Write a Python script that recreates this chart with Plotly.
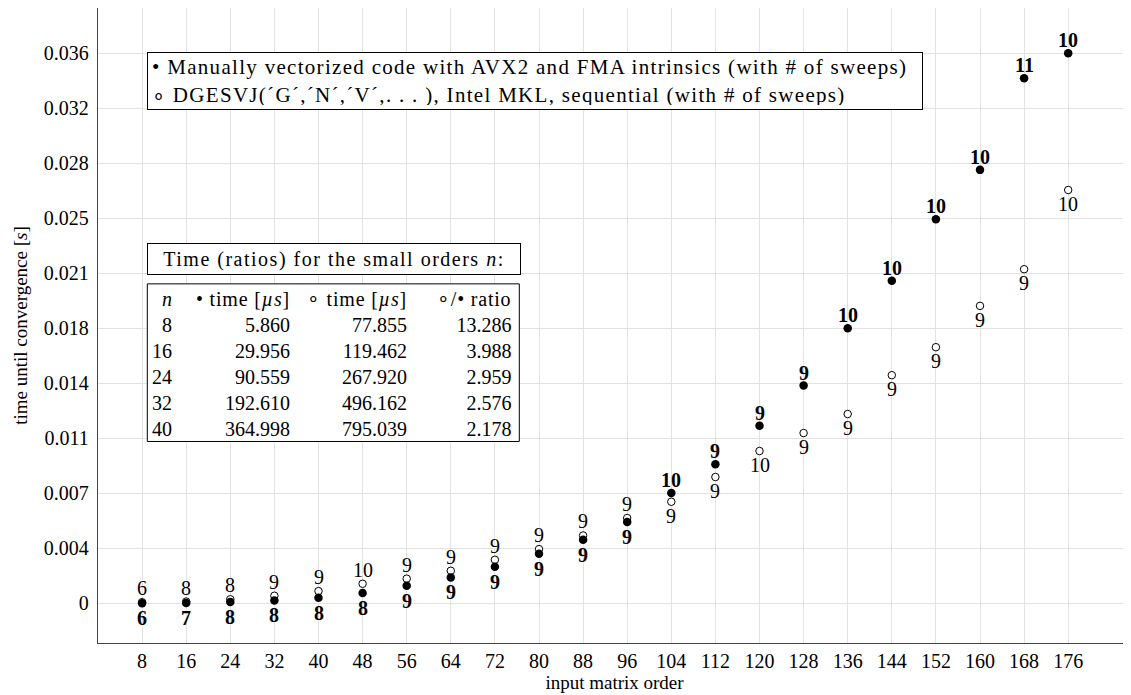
import plotly.graph_objects as go

# ---------------- data ----------------
orders = [8, 16, 24, 32, 40, 48, 56, 64, 72, 80, 88, 96, 104, 112, 120, 128, 136, 144, 152, 160, 168, 176]
manual_time = [0.00000586, 0.000029956, 0.000090559, 0.00019261, 0.000364998, 0.000672, 0.00114, 0.00168,
               0.00237, 0.00321, 0.00411, 0.00526, 0.00713, 0.00900, 0.01148, 0.01408, 0.01779, 0.02085,
               0.02483, 0.02802, 0.03394, 0.03556]
mkl_time = [0.000077855, 0.000119462, 0.00026792, 0.000496162, 0.000795039, 0.00127, 0.00160, 0.00211,
            0.00282, 0.00351, 0.00439, 0.00552, 0.00657, 0.00817, 0.00985, 0.01101, 0.01224, 0.01475,
            0.01656, 0.01923, 0.02160, 0.02672]
manual_sweeps = [6, 7, 8, 8, 8, 8, 9, 9, 9, 9, 9, 9, 10, 9, 9, 9, 10, 10, 10, 10, 11, 10]
mkl_sweeps = [6, 8, 8, 9, 9, 10, 9, 9, 9, 9, 9, 9, 9, 9, 10, 9, 9, 9, 9, 9, 9, 10]

ytick_vals = [k * 0.032 / 9 for k in range(11)]
ytick_text = ["0", "0.004", "0.007", "0.011", "0.014", "0.018", "0.021", "0.025", "0.028", "0.032", "0.036"]

table_n = [8, 16, 24, 32, 40]
table_manual_us = [5.860, 29.956, 90.559, 192.610, 364.998]
table_mkl_us = [77.855, 119.462, 267.920, 496.162, 795.039]
table_ratio = [m / a for m, a in zip(table_mkl_us, table_manual_us)]

legend_lines = [
    "• Manually vectorized code with AVX2 and FMA intrinsics (with # of sweeps)",
    "∘ DGESVJ(´G´,´N´,´V´,. . . ), Intel MKL, sequential (with # of sweeps)",
]
table_title = "Time (ratios) for the small orders <i>n</i>:"
table_headers = ["<i>n</i>", "• time [<i>µs</i>]", "∘ time [<i>µs</i>]", "∘/• ratio"]

# ---------------- layout geometry ----------------
# the page body adds an 8px offset; figure is sized so the plot fills the window
OFF = 8
W, H = 1131 - OFF, 695 - OFF
L, R, T = 90, 0, 0
bottom_axis_win = 643.3
PH = bottom_axis_win - OFF - T
B = H - T - PH
PW = W - L - R
step = 0.032 / 9
y0_win = 603.7
px_per_step = 55.04
y_lo = -(bottom_axis_win - y0_win) / px_per_step * step
y_hi = (y0_win - OFF - T) / px_per_step * step
x_hi = PW / 44.1 * 8

def px2x(px):
    return (px - OFF - L) / PW

def py2y(py):
    return (T + PH - (py - OFF)) / PH

FONT = "Liberation Serif"

fig = go.Figure()
fig.add_trace(go.Scatter(
    x=orders, y=mkl_time, mode="markers",
    marker=dict(symbol="circle", size=7.5, color="white", line=dict(color="black", width=1)),
    showlegend=False, cliponaxis=False,
))
fig.add_trace(go.Scatter(
    x=orders, y=manual_time, mode="markers",
    marker=dict(symbol="circle", size=8.5, color="black", line=dict(width=0)),
    showlegend=False, cliponaxis=False,
))

# sweep count labels
for n, t, s in zip(orders, mkl_time, mkl_sweeps):
    fig.add_annotation(x=n, y=t, text=str(s), showarrow=False, xanchor="center", yanchor="middle",
                       yshift=(14 if n <= 96 else -14), font=dict(family=FONT, size=20, color="black"))
for n, t, s in zip(orders, manual_time, manual_sweeps):
    fig.add_annotation(x=n, y=t, text="<b>%d</b>" % s, showarrow=False, xanchor="center", yanchor="middle",
                       yshift=(-15 if n <= 96 else 13), font=dict(family=FONT, size=20, color="black"))

# legend box
LS = '<span style="letter-spacing:1.3px">%s</span>'
fig.add_annotation(
    xref="paper", yref="paper", x=px2x(147.3), y=py2y(52.3), xanchor="left", yanchor="top",
    text="<br>".join(LS % l for l in legend_lines), align="left", showarrow=False,
    font=dict(family=FONT, size=21, color="black"),
    bgcolor="white", bordercolor="black", borderwidth=1, borderpad=4,
    width=766, height=48,
)

# table title
fig.add_annotation(
    xref="paper", yref="paper", x=px2x(147.3), y=py2y(242.7), xanchor="left", yanchor="top",
    text='<span style="letter-spacing:1.5px">%s</span>' % table_title, align="center", showarrow=False,
    font=dict(family=FONT, size=20, color="black"),
    bgcolor="white", bordercolor="black", borderwidth=1, borderpad=2,
    width=368, height=26,
)
# table box
fig.add_shape(type="rect", xref="paper", yref="paper",
              x0=px2x(147.3), x1=px2x(519.3), y0=py2y(284), y1=py2y(441.7),
              line=dict(color="black", width=1), fillcolor="white", layer="above")

col_right = [173.3, 291, 407.5, 512]
cols = [
    [str(n) for n in table_n],
    [f"{v:.3f}" for v in table_manual_us],
    [f"{v:.3f}" for v in table_mkl_us],
    [f"{v:.3f}" for v in table_ratio],
]
for i, (hdr, vals, xr) in enumerate(zip(table_headers, cols, col_right)):
    h = hdr if i == 0 else '<span style="letter-spacing:0.8px">%s</span>' % hdr
    fig.add_annotation(
        xref="paper", yref="paper", x=px2x(xr), y=py2y(287), xanchor="right", yanchor="top",
        text="<br>".join([h] + vals), align="right", showarrow=False,
        font=dict(family=FONT, size=20, color="black"), borderpad=0,
    )

fig.update_layout(
    width=W, height=H, margin=dict(l=L, r=R, t=T, b=B, autoexpand=False),
    paper_bgcolor="white", plot_bgcolor="white",
    font=dict(family=FONT, size=20, color="black"),
    showlegend=False,
)
fig.update_xaxes(
    range=[0, x_hi], tickmode="array", tickvals=orders, ticktext=[str(n) for n in orders],
    showgrid=True, gridcolor="#e2e2e2", gridwidth=1, zeroline=False,
    showline=True, linecolor="#444444", linewidth=1.3, mirror=True,
    ticks="",
    tickfont=dict(family=FONT, size=20, color="black"),
    title=dict(text="input matrix order", font=dict(family=FONT, size=19, color="black"), standoff=2),
)
fig.update_yaxes(
    range=[y_lo, y_hi], tickmode="array", tickvals=ytick_vals, ticktext=ytick_text,
    showgrid=True, gridcolor="#e2e2e2", gridwidth=1, zeroline=False,
    showline=True, linecolor="#444444", linewidth=1.3, mirror=False,
    ticks="outside", ticklen=4, tickcolor="rgba(0,0,0,0)",
    tickfont=dict(family=FONT, size=20, color="black"),
    title=dict(text="time until convergence [<i>s</i>]", font=dict(family=FONT, size=19, color="black"), standoff=11),
)

fig.write_html("out.html")
